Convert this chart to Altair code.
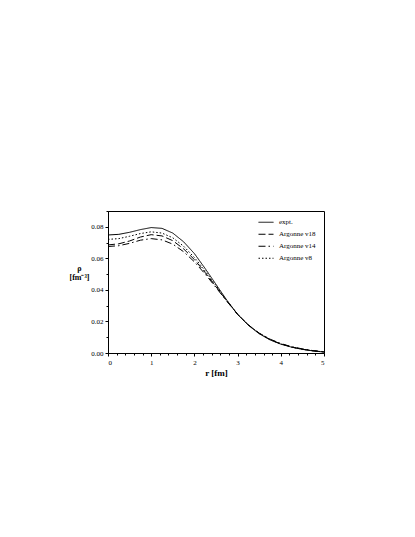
import altair as alt
import pandas as pd

r = [0, 0.25, 0.5, 0.75, 1.0, 1.25, 1.5, 1.75, 2.0, 2.25, 2.5, 2.75, 3.0,
     3.25, 3.5, 3.75, 4.0, 4.25, 4.5, 4.75, 5.0]
expt = [0.0748, 0.0752, 0.0765, 0.0782, 0.0795, 0.0790, 0.0760, 0.0705, 0.0630,
        0.0535, 0.0435, 0.0335, 0.0245, 0.0175, 0.0122, 0.0083, 0.0056, 0.0037,
        0.0023, 0.0013, 0.0006]
v18 = [0.0685, 0.0692, 0.0710, 0.0735, 0.0750, 0.0742, 0.0712, 0.0660, 0.0592,
       0.0510, 0.0420, 0.0330, 0.0245, 0.0178, 0.0125, 0.0086, 0.0058, 0.0038,
       0.0024, 0.0014, 0.0007]
v14 = [0.0675, 0.0680, 0.0695, 0.0715, 0.0725, 0.0717, 0.0690, 0.0642, 0.0578,
       0.0500, 0.0415, 0.0328, 0.0245, 0.0178, 0.0126, 0.0088, 0.0060, 0.0040,
       0.0026, 0.0015, 0.0008]
v8 = [0.0720, 0.0725, 0.0740, 0.0757, 0.0768, 0.0760, 0.0730, 0.0677, 0.0605,
      0.0520, 0.0427, 0.0333, 0.0246, 0.0177, 0.0124, 0.0085, 0.0057, 0.0037,
      0.0024, 0.0014, 0.0007]

series_names = ["expt.", "Argonne v18", "Argonne v14", "Argonne v8"]
series_vals = [expt, v18, v14, v8]
dashes = [[1, 0], [7, 3], [7, 3, 1.5, 3], [1.5, 2]]

x_ticks = [round(i * 0.2, 1) for i in range(26)]
y_ticks = [round(i * 0.01, 2) for i in range(10)]

rows = []
for name, vals in zip(series_names, series_vals):
    for rv, yv in zip(r, vals):
        rows.append({"r": rv, "rho": yv, "series": name})
df = pd.DataFrame(rows)

FONT = "Liberation Serif"

chart = alt.Chart(df).mark_line(color="black", strokeWidth=1).encode(
    x=alt.X("r:Q",
            scale=alt.Scale(domain=[0, 5], nice=False),
            axis=alt.Axis(
                values=x_ticks,
                labelExpr="abs(datum.value - round(datum.value)) < 0.001 ? format(datum.value, 'd') : ''",
                tickSize={"expr": "abs(datum.value - round(datum.value)) < 0.001 ? 3 : 2"},
                grid=False, labelFont=FONT, labelFontSize=7, labelPadding=2,
                domainColor="black", tickColor="black", labelColor="black",
                title="r [fm]", titleFont=FONT, titleFontSize=9, titleFontWeight="bold",
                titlePadding=3, titleColor="black")),
    y=alt.Y("rho:Q",
            scale=alt.Scale(domain=[0, 0.09], nice=False),
            axis=alt.Axis(
                values=y_ticks,
                labelExpr="abs(datum.value*50 - round(datum.value*50)) < 0.001 ? format(datum.value, '.2f') : ''",
                tickSize={"expr": "abs(datum.value*50 - round(datum.value*50)) < 0.001 ? 3 : 2"},
                grid=False, labelFont=FONT, labelFontSize=7, labelPadding=2,
                domainColor="black", tickColor="black", labelColor="black",
                title=["ρ", "[fm⁻³]"], titleAngle=0, titleAlign="center",
                titleBaseline="middle", titleX=-29, titleY=57,
                titleFont=FONT, titleFontSize=8, titleFontWeight="bold",
                titleColor="black", titleLineHeight=9)),
    strokeDash=alt.StrokeDash("series:N",
        scale=alt.Scale(domain=series_names, range=dashes),
        sort=series_names,
        legend=alt.Legend(title=None, orient="none", legendX=150, legendY=6,
                          symbolType="stroke", symbolSize=225, clipHeight=10.5,
                          symbolStrokeColor="black", symbolStrokeWidth=1,
                          labelFont=FONT, labelFontSize=7, labelColor="black",
                          labelOffset=5, rowPadding=1, padding=0)),
).properties(
    width=216, height=142,
    autosize=alt.AutoSizeParams(type="none"),
    padding={"left": 100, "top": 203, "right": 80, "bottom": 150},
).configure_view(stroke="black", strokeWidth=1)

chart.save("out.html", embed_options={"renderer": "svg", "actions": False})
